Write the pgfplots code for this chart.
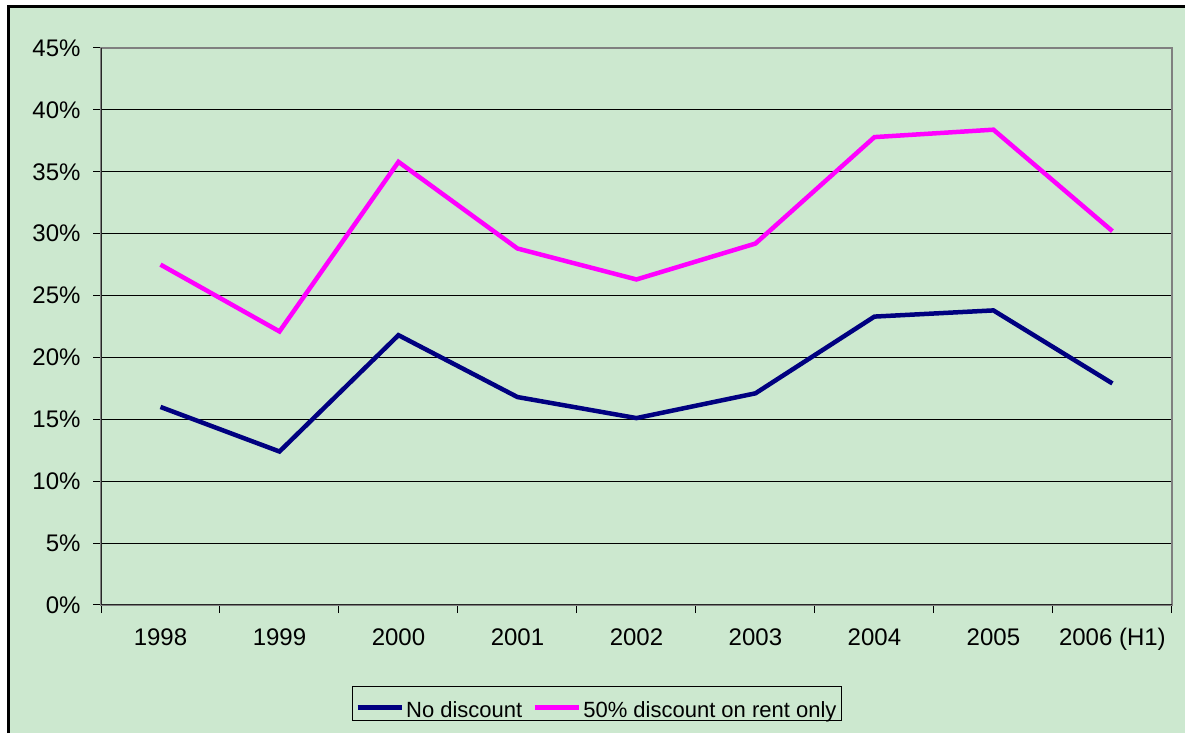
\documentclass[border=0pt]{standalone}
\usepackage{pgfplots}
\pgfplotsset{compat=1.18}
\usepackage{fontspec}
\setmainfont{Liberation Sans}
\definecolor{bggreen}{RGB}{204,232,207}
\definecolor{navyline}{RGB}{0,0,128}
\definecolor{pinkline}{RGB}{255,0,255}
\newcommand{\lstrut}{\rule[-23pt]{0pt}{52pt}}

\begin{document}
\begin{tikzpicture}[x=1pt,y=1pt]
\useasboundingbox (0,0) rectangle (1185,733);
\fill[white] (0,0) rectangle (1185,733);
\fill[bggreen] (8,0) rectangle (1185,726);
\draw[black, line width=3pt] (8,0) -- (8,726) -- (1185,726);
\begin{axis}[
  at={(101pt,128pt)}, anchor=south west,
  scale only axis,
  width=1071pt, height=557pt,
  font=\fontsize{24}{28}\selectfont,
  xmin=-0.5, xmax=8.5,
  ymin=0, ymax=45,
  xtick={0,...,8},
  xticklabels={1998,1999,2000,2001,2002,2003,2004,2005,2006 (H1)},
  ytick={0,5,...,45},
  yticklabels={0\%,5\%,10\%,15\%,20\%,25\%,30\%,35\%,40\%,45\%},
  minor xtick={-0.5,0.5,...,8.5},
  xtick pos=bottom, ytick pos=left,
  tick align=outside,
  major tick length=8pt,
  minor tick length=8pt,
  x tick style={draw=none},
  minor x tick style={draw=black, line width=1pt},
  y tick style={draw=black, line width=1pt},
  xticklabel style={yshift=-12pt},
  yticklabel style={xshift=-9pt},
  ymajorgrids,
  grid style={black, line width=0.9pt},
  axis line style={draw=gray, line width=1.6pt},
  legend columns=2,
  legend style={
    at={(0.463,-0.1454)}, anchor=north,
    fill=bggreen, draw=black, line width=0.8pt,
    font=\fontsize{22}{26}\selectfont,
    inner xsep=3pt, inner ysep=0pt,
    /tikz/every even column/.append style={column sep=8pt},
  },
  legend image code/.code={\draw[#1, line width=5pt] (0pt,-4pt) -- (44pt,-4pt);},
]
\addplot[navyline, line width=4.5pt, line join=miter] coordinates {
  (0,16.0) (1,12.4) (2,21.8) (3,16.8) (4,15.1) (5,17.1) (6,23.3) (7,23.8) (8,17.9)};
\addlegendentry{\lstrut No discount}
\addplot[pinkline, line width=4.5pt, line join=miter] coordinates {
  (0,27.5) (1,22.1) (2,35.8) (3,28.8) (4,26.3) (5,29.2) (6,37.8) (7,38.4) (8,30.2)};
\addlegendentry{\lstrut 50\% discount on rent only}
\draw[black!85, line width=1.6pt] (rel axis cs:0,1) -- (rel axis cs:0,0) -- (rel axis cs:1,0);
\end{axis}
\end{tikzpicture}
\end{document}
